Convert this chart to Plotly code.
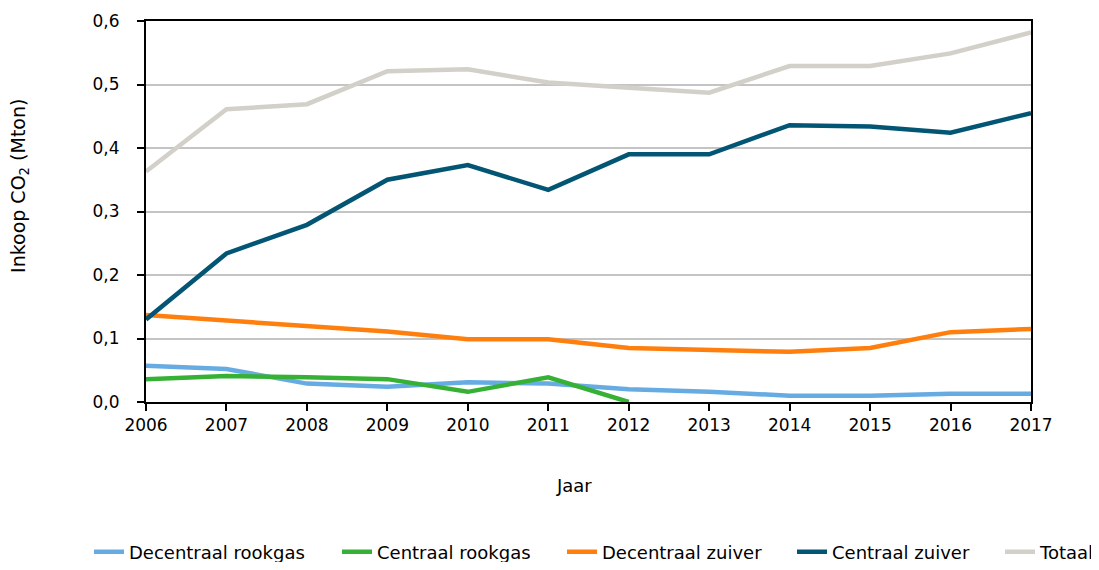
import plotly.graph_objects as go

years = list(range(2006, 2018))
decentraal_rookgas = [0.057, 0.052, 0.029, 0.024, 0.031, 0.029, 0.020, 0.016, 0.010, 0.010, 0.013, 0.013]
centraal_rookgas = [0.036, 0.041, 0.039, 0.036, 0.016, 0.039, 0.0, None, None, None, None, None]
decentraal_zuiver = [0.137, 0.128, 0.119, 0.111, 0.099, 0.099, 0.085, 0.082, 0.079, 0.085, 0.110, 0.115]
centraal_zuiver = [0.130, 0.234, 0.279, 0.350, 0.373, 0.334, 0.390, 0.390, 0.436, 0.434, 0.424, 0.455]
totaal = [0.363, 0.461, 0.469, 0.521, 0.524, 0.503, 0.495, 0.487, 0.529, 0.529, 0.549, 0.582]

series = [
    ("Decentraal rookgas", decentraal_rookgas, "#67abe3"),
    ("Centraal rookgas", centraal_rookgas, "#36b136"),
    ("Decentraal zuiver", decentraal_zuiver, "#ff7f0e"),
    ("Centraal zuiver", centraal_zuiver, "#035574"),
    ("Totaal", totaal, "#d2d0c8"),
]
# left edge (px in figure) of each legend entry
legend_left = [81, 329, 554, 784, 992]

font = "DejaVu Sans"
W, H = 1091, 554

fig = go.Figure()
legend_layouts = {}
for i, (name, vals, col) in enumerate(series):
    lname = "legend" if i == 0 else f"legend{i+1}"
    fig.add_trace(go.Scatter(x=years, y=vals, name=name, mode="lines",
                             line=dict(color=col, width=4.5), legend=lname))
    legend_layouts[lname] = dict(
        orientation="h", xref="container", yref="paper",
        x=legend_left[i] / W, xanchor="left", y=-0.394, yanchor="middle",
        font=dict(family=font, size=18, color="#000"),
        bgcolor="rgba(0,0,0,0)")

fig.update_layout(
    width=W, height=H,
    margin=dict(l=138, r=68, t=13, b=160, autoexpand=False),
    paper_bgcolor="white", plot_bgcolor="white",
    separators=",.",
    font=dict(family=font, size=17, color="#000"),
    showlegend=True,
    xaxis=dict(range=[2006, 2017], tickmode="array", tickvals=years,
               ticks="outside", ticklen=7, tickcolor="#000", tickwidth=1.5,
               showline=True, linecolor="#000", linewidth=2, mirror=True,
               showgrid=False, zeroline=False),
    yaxis=dict(range=[0, 0.6], tickvals=[0, 0.1, 0.2, 0.3, 0.4, 0.5, 0.6],
               tickformat=".1f", ticklabelstandoff=14,
               ticks="outside", ticklen=7, tickcolor="#000", tickwidth=1.5,
               showline=True, linecolor="#000", linewidth=2, mirror=True,
               showgrid=True, gridcolor="#c4c4c4", gridwidth=1.5, zeroline=False),
    annotations=[
        dict(text="Inkoop CO<sub>2</sub> (Mton)", xref="paper", yref="paper",
             x=-0.1424, y=0.567, xanchor="center", yanchor="middle",
             textangle=-90, showarrow=False,
             font=dict(family=font, size=19, color="#000")),
        dict(text="Jaar", xref="paper", yref="paper",
             x=0.4836, y=-0.218, xanchor="center", yanchor="middle",
             showarrow=False, font=dict(family=font, size=18, color="#000")),
    ],
    **legend_layouts,
)
fig.write_html("out.html")
